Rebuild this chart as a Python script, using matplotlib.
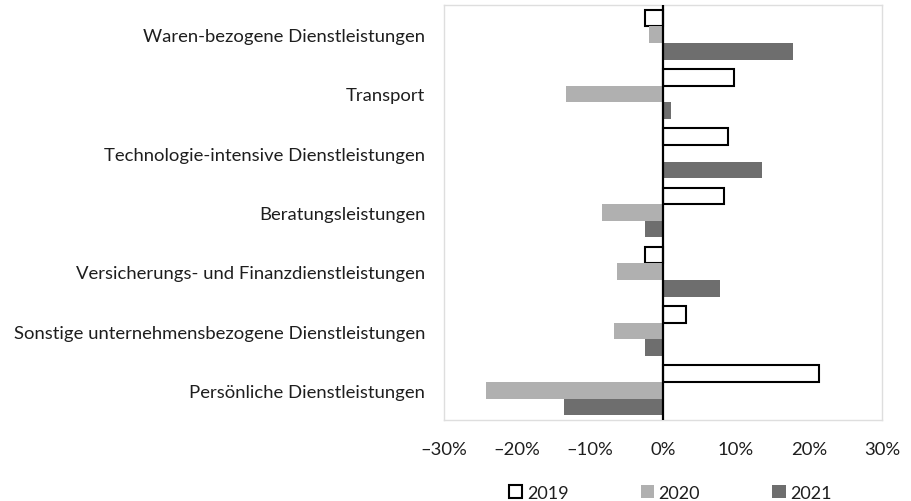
import matplotlib
matplotlib.use("Agg")
import matplotlib.pyplot as plt
import numpy as np
from matplotlib.patches import Patch

plt.rcParams['font.family'] = ['Lato', 'DejaVu Sans']

categories = [
    "Waren-bezogene Dienstleistungen",
    "Transport",
    "Technologie-intensive Dienstleistungen",
    "Beratungsleistungen",
    "Versicherungs- und Finanzdienstleistungen",
    "Sonstige unternehmensbezogene Dienstleistungen",
    "Persönliche Dienstleistungen",
]
series_names = ["2019", "2020", "2021"]
v2019 = [-2.5, 9.7, 8.9, 8.4, -2.5, 3.1, 21.4]
v2020 = [-1.9, -13.3, 0.2, -8.3, -6.3, -6.7, -24.2]
v2021 = [17.8, 1.1, 13.6, -2.5, 7.8, -2.5, -13.6]
xticks = [-30, -20, -10, 0, 10, 20, 30]
xticklabels = ["–30%", "–20%", "–10%", "0%", "10%", "20%", "30%"]

fig = plt.figure(figsize=(9.12, 5.02), dpi=100)
ax = fig.add_axes([0.4868, 0.1614, 0.4803, 0.8266])

y = np.arange(len(categories))
h = 0.28
ax.barh(y - h, v2019, height=h, color='white', edgecolor='black', linewidth=1.5, zorder=2)
ax.barh(y, v2020, height=h, color='#b0b0b0', edgecolor='none', zorder=2)
ax.barh(y + h, v2021, height=h, color='#6e6e6e', edgecolor='none', zorder=2)
ax.axvline(0, color='black', linewidth=1.6, zorder=3)

ax.set_xlim(-30, 30)
ax.set_ylim(len(categories) - 0.5, -0.5)
ax.set_xticks(xticks)
ax.set_xticklabels(xticklabels, fontsize=13.3, color='#1e1e1e')
ax.set_yticks(y)
ax.set_yticklabels(categories, fontsize=13.3, color='#1e1e1e')
ax.tick_params(length=0)
ax.tick_params(axis='x', pad=15)
ax.tick_params(axis='y', pad=13.5)
for s in ax.spines.values():
    s.set_color('#dedede')
    s.set_linewidth(1.0)

handles = [
    Patch(facecolor='white', edgecolor='black', linewidth=1.5),
    Patch(facecolor='#b0b0b0', edgecolor='none'),
    Patch(facecolor='#6e6e6e', edgecolor='none'),
]
fig.legend(handles, series_names, loc='center', bbox_to_anchor=(0.735, 0.016),
           ncol=3, frameon=False, fontsize=13, handlelength=0.75, handleheight=0.75,
           handletextpad=0.25, columnspacing=4.0, borderpad=0, labelcolor='#1e1e1e')

fig.savefig('out.png', dpi=100)
